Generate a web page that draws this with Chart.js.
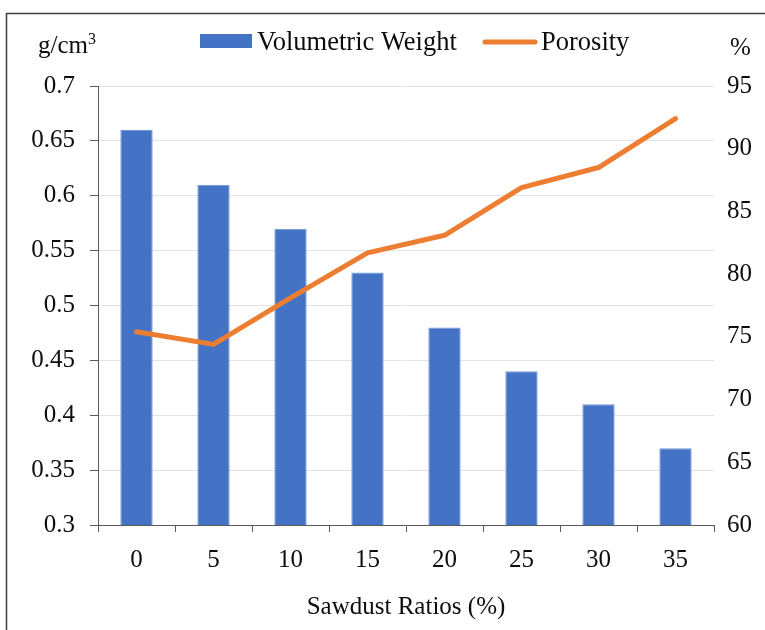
<!DOCTYPE html>
<html>
<head>
<meta charset="utf-8">
<script src="https://cdn.jsdelivr.net/npm/chart.js@4/dist/chart.umd.min.js"></script>
<style>
  html, body { margin: 0; padding: 0; background: #ffffff; }
  canvas { display: block; }
</style>
</head>
<body>
<canvas id="c" width="765" height="630"></canvas>
<script>
// Sawdust ratio (%) in the mix
const sawdustRatios = ['0', '5', '10', '15', '20', '25', '30', '35'];
// Volumetric weight, g/cm3
const volumetricWeight = [0.66, 0.61, 0.57, 0.53, 0.48, 0.44, 0.41, 0.37];
// Porosity, %
const porosity = [75.4, 74.4, 78.1, 81.7, 83.1, 86.9, 88.5, 92.4];

// Axis tick values
const weightTicks = [0.3, 0.35, 0.4, 0.45, 0.5, 0.55, 0.6, 0.65, 0.7];
const porosityTicks = [60, 65, 70, 75, 80, 85, 90, 95];

const FONT = '"Liberation Serif", "Times New Roman", serif';
const TEXT = '#0d0d0d';
const AXIS = '#595959';

const frameAndLegend = {
  id: 'frameAndLegend',
  afterDraw(chart) {
    const ctx = chart.ctx;
    ctx.save();
    // outer frame
    ctx.strokeStyle = '#3f3f3f';
    ctx.lineWidth = 1.5;
    ctx.strokeRect(6.5, 13.5, 800, 700);

    // unit labels
    ctx.fillStyle = TEXT;
    ctx.font = '25px ' + FONT;
    ctx.textBaseline = 'alphabetic';
    ctx.textAlign = 'left';
    ctx.fillText('g/cm', 38, 53);
    const w = ctx.measureText('g/cm').width;
    ctx.font = '16px ' + FONT;
    ctx.fillText('3', 38 + w, 44);
    ctx.font = '25px ' + FONT;
    ctx.fillText('%', 730, 55);

    // legend
    const bar = chart.data.datasets[0];
    const line = chart.data.datasets[1];
    ctx.font = '26.5px ' + FONT;
    ctx.textBaseline = 'middle';
    ctx.fillStyle = bar.backgroundColor;
    ctx.fillRect(200, 34, 52, 14);
    ctx.fillStyle = TEXT;
    ctx.fillText(bar.label, 257, 43);

    ctx.strokeStyle = line.borderColor;
    ctx.lineWidth = 5;
    ctx.lineCap = 'round';
    ctx.beginPath();
    ctx.moveTo(485, 42);
    ctx.lineTo(535, 42);
    ctx.stroke();
    ctx.fillStyle = TEXT;
    ctx.fillText(line.label, 541, 43);
    ctx.restore();
  }
};

new Chart(document.getElementById('c'), {
  data: {
    labels: sawdustRatios,
    datasets: [
      {
        type: 'bar',
        label: 'Volumetric Weight',
        data: volumetricWeight,
        yAxisID: 'y',
        backgroundColor: '#4472C4',
        borderColor: '#7396d6',
        borderWidth: 1,
        categoryPercentage: 1,
        barPercentage: 0.42,
        order: 1
      },
      {
        type: 'line',
        label: 'Porosity',
        data: porosity,
        yAxisID: 'y1',
        borderColor: '#ED7D31',
        backgroundColor: '#ED7D31',
        borderWidth: 5,
        borderCapStyle: 'round',
        borderJoinStyle: 'round',
        pointRadius: 0,
        tension: 0,
        order: 0
      }
    ]
  },
  options: {
    responsive: false,
    animation: false,
    devicePixelRatio: 1,
    layout: { padding: { top: 86, left: 0, right: 0, bottom: 0 } },
    plugins: {
      legend: { display: false },
      tooltip: { enabled: false }
    },
    scales: {
      x: {
        offset: true,
        grid: {
          offset: true,
          drawOnChartArea: false,
          tickLength: 7,
          tickColor: AXIS,
          lineWidth: 1
        },
        border: { color: AXIS, width: 1 },
        ticks: { color: TEXT, font: { family: FONT, size: 25 }, padding: 13, maxRotation: 0 },
        title: {
          display: true,
          text: 'Sawdust Ratios (%)',
          color: TEXT,
          font: { family: FONT, size: 25 },
          padding: { top: 0, bottom: 8 }
        },
        afterFit(scale) { scale.height = 105; }
      },
      y: {
        position: 'left',
        min: 0.3,
        max: 0.7,
        afterBuildTicks(scale) { scale.ticks = weightTicks.map(v => ({ value: v })); },
        grid: {
          color: '#e3e3e3',
          lineWidth: 1,
          tickColor: AXIS,
          tickLength: 8
        },
        border: { color: AXIS, width: 1 },
        ticks: {
          color: TEXT,
          font: { family: FONT, size: 25 },
          padding: 15,
          callback: v => String(parseFloat(Number(v).toFixed(2)))
        },
        afterFit(scale) { scale.width = 98; }
      },
      y1: {
        position: 'right',
        min: 60,
        max: 95,
        afterBuildTicks(scale) { scale.ticks = porosityTicks.map(v => ({ value: v })); },
        grid: { display: false, drawOnChartArea: false, drawTicks: false },
        border: { display: false },
        ticks: {
          color: TEXT,
          font: { family: FONT, size: 25 },
          padding: 13
        },
        afterFit(scale) { scale.width = 51; }
      }
    }
  },
  plugins: [frameAndLegend]
});
</script>
</body>
</html>
